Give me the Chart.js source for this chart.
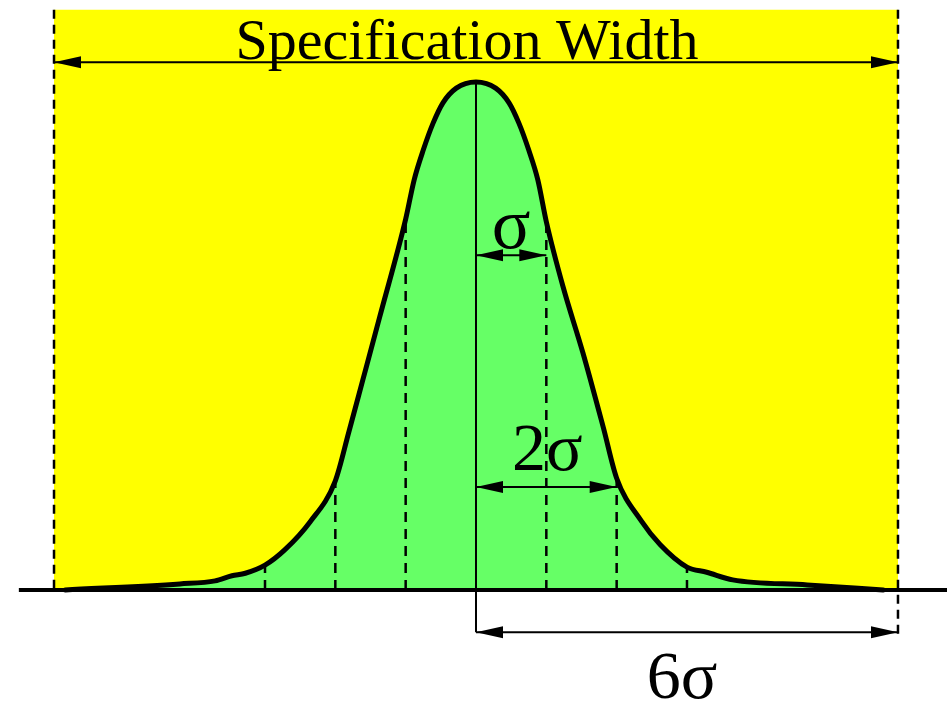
<!DOCTYPE html>
<html>
<head>
<meta charset="utf-8">
<script src="https://cdn.jsdelivr.net/npm/chart.js@4/dist/chart.umd.min.js"></script>
<style>
  html, body { margin: 0; padding: 0; background: #ffffff; }
  #wrap { width: 947px; height: 704px; }
</style>
</head>
<body>
<div id="wrap"><canvas id="c" width="947" height="704"></canvas></div>
<script>
// Distribution curve: x in units of sigma, height relative to the peak
const curveSigma  = [-5.84, -4.21, -3.71, -3.47, -3.28, -3.0, -2.72, -2.36, -2.0, -1.81, -1.61, -1.37, -1.0, -0.88, -0.75, -0.61, -0.47, -0.28, 0,
                      0.28, 0.47, 0.61, 0.75, 0.88, 1.0, 1.24, 1.52, 1.81, 2.0, 2.35, 2.62, 3.0, 3.28, 3.65, 4.71, 5.79];
const curveHeight = [0.0, 0.012, 0.018, 0.028, 0.033, 0.049, 0.079, 0.134, 0.215, 0.310, 0.413, 0.537, 0.730, 0.807, 0.866, 0.919, 0.959, 0.988, 1.0,
                      0.988, 0.959, 0.919, 0.866, 0.807, 0.725, 0.596, 0.467, 0.320, 0.220, 0.136, 0.089, 0.045, 0.035, 0.020, 0.010, 0.0];

// Sigma marks drawn as dashed verticals, and the shaded +/-3 sigma band
const sigmaMarks = [-3, -2, -1, 1, 2, 3];
const bandLimit = 3;

// Specification limits (in sigma)
const specLimits = [-6, 6];
const specLabel = 'Specification Width';

// Dimension arrows measured from the mean
const spanSigma  = [1, 2, 6];
const spanLabels = ['σ', '2σ', '6σ'];

// ---- layout of the drawing ----
const X_MIN = -6.768, X_MAX = 6.697;
const Y_MIN = -0.2244, Y_MAX = 1.1614;
const SPEC_TOP = 1.142;
const BASE_LEFT = -6.5;
const CENTER_BOTTOM = -0.083;
const SPEC_RIGHT_BOTTOM = -0.093;
const spanLevels = [0.659, 0.203, -0.083];
const SPEC_ARROW_LEVEL = 1.039;

const YELLOW = '#ffff00';
const GREEN = '#66ff66';
const SERIF = '"Liberation Serif", "DejaVu Serif", serif';

const curvePts = curveSigma.map((x, i) => ({ x, y: curveHeight[i] }));
const heightAt = s => curveHeight[curveSigma.indexOf(s)];

// green band: the same curve, filled to the baseline and clipped to +/-3 sigma
const bandClip = {
  id: 'bandClip',
  beforeDatasetDraw(chart, args) {
    if (chart.data.datasets[args.index].isBand) {
      const { ctx, scales: { x } } = chart;
      ctx.save();
      const l = x.getPixelForValue(-bandLimit), r = x.getPixelForValue(bandLimit);
      ctx.beginPath();
      ctx.rect(l, 0, r - l, chart.height);
      ctx.clip();
    }
  },
  afterDatasetDraw(chart, args) {
    if (chart.data.datasets[args.index].isBand) {
      chart.ctx.restore();
    }
  }
};

const datasets = [];

// yellow specification region
datasets.push({
  data: [{ x: specLimits[0], y: SPEC_TOP }, { x: specLimits[1], y: SPEC_TOP }],
  borderWidth: 0, pointRadius: 0, backgroundColor: YELLOW, fill: 'origin', order: 20
});
// green band under the curve
datasets.push({
  isBand: true,
  data: curvePts, borderWidth: 0, borderColor: 'rgba(0,0,0,0)', pointRadius: 0, backgroundColor: GREEN,
  fill: 'origin', cubicInterpolationMode: 'monotone', order: 19
});
// dashed sigma verticals
sigmaMarks.forEach(s => {
  datasets.push({
    data: [{ x: s, y: 0 }, { x: s, y: heightAt(s) }],
    borderColor: '#000', borderWidth: 2.5, borderDash: [10, 7], pointRadius: 0, fill: false, order: 15
  });
});
// dashed specification limits
datasets.push({
  data: [{ x: specLimits[0], y: SPEC_TOP }, { x: specLimits[0], y: 0 }],
  borderColor: '#000', borderWidth: 2.5, borderDash: [9, 6], pointRadius: 0, fill: false, order: 14
});
datasets.push({
  data: [{ x: specLimits[1], y: SPEC_TOP }, { x: specLimits[1], y: SPEC_RIGHT_BOTTOM }],
  borderColor: '#000', borderWidth: 2.5, borderDash: [9, 6], pointRadius: 0, fill: false, order: 14
});
// mean line
datasets.push({
  data: [{ x: 0, y: heightAt(0) }, { x: 0, y: CENTER_BOTTOM }],
  borderColor: '#000', borderWidth: 2, pointRadius: 0, fill: false, order: 13
});
// distribution curve
datasets.push({
  data: curvePts, borderColor: '#000', borderWidth: 5, pointRadius: 0, fill: false,
  cubicInterpolationMode: 'monotone', borderCapStyle: 'round', borderJoinStyle: 'round', order: 12
});
// baseline
datasets.push({
  data: [{ x: BASE_LEFT, y: 0 }, { x: X_MAX, y: 0 }],
  borderColor: '#000', borderWidth: 4, pointRadius: 0, fill: false, order: 11
});

function arrowHead(ctx, xTip, y, dir) {
  const len = 27, half = 6;
  ctx.beginPath();
  ctx.moveTo(xTip, y);
  ctx.lineTo(xTip - dir * len, y - half);
  ctx.lineTo(xTip - dir * len, y + half);
  ctx.closePath();
  ctx.fill();
}
function dimArrow(ctx, x1, x2, y) {
  ctx.beginPath();
  ctx.moveTo(x1, y);
  ctx.lineTo(x2, y);
  ctx.stroke();
  arrowHead(ctx, x1, y, -1);
  arrowHead(ctx, x2, y, 1);
}

const annotations = {
  id: 'annotations',
  afterDatasetsDraw(chart) {
    const { ctx, scales: { x, y } } = chart;
    ctx.save();
    ctx.strokeStyle = '#000';
    ctx.fillStyle = '#000';
    ctx.lineWidth = 2;

    // specification width arrow and label
    const sy = y.getPixelForValue(SPEC_ARROW_LEVEL);
    dimArrow(ctx, x.getPixelForValue(specLimits[0]), x.getPixelForValue(specLimits[1]), sy);
    ctx.font = '58px ' + SERIF;
    ctx.textAlign = 'center';
    ctx.textBaseline = 'alphabetic';
    ctx.fillText(specLabel, 467, sy - 3);

    // sigma span arrows
    const labelOffsets = [-7, -17, 0];
    const labelShift = [0, 1, 0];
    spanSigma.forEach((s, i) => {
      const ay = y.getPixelForValue(spanLevels[i]);
      const x0 = x.getPixelForValue(0), x1 = x.getPixelForValue(s);
      dimArrow(ctx, x0, x1, ay);
      ctx.textAlign = 'center';
      if (i < 2) {
        ctx.font = (i === 0 ? '72px ' : '68px ') + SERIF;
        ctx.fillText(spanLabels[i], (x0 + x1) / 2 + labelShift[i], ay + labelOffsets[i]);
      } else {
        ctx.font = '68px ' + SERIF;
        ctx.fillText(spanLabels[i], 682, 698);
      }
    });
    ctx.restore();
  }
};

new Chart(document.getElementById('c'), {
  type: 'line',
  data: { datasets },
  options: {
    responsive: false,
    animation: false,
    layout: { padding: 0 },
    plugins: { legend: { display: false }, tooltip: { enabled: false }, title: { display: false } },
    scales: {
      x: { type: 'linear', min: X_MIN, max: X_MAX, display: false },
      y: { type: 'linear', min: Y_MIN, max: Y_MAX, display: false }
    }
  },
  plugins: [bandClip, annotations]
});
</script>
</body>
</html>
